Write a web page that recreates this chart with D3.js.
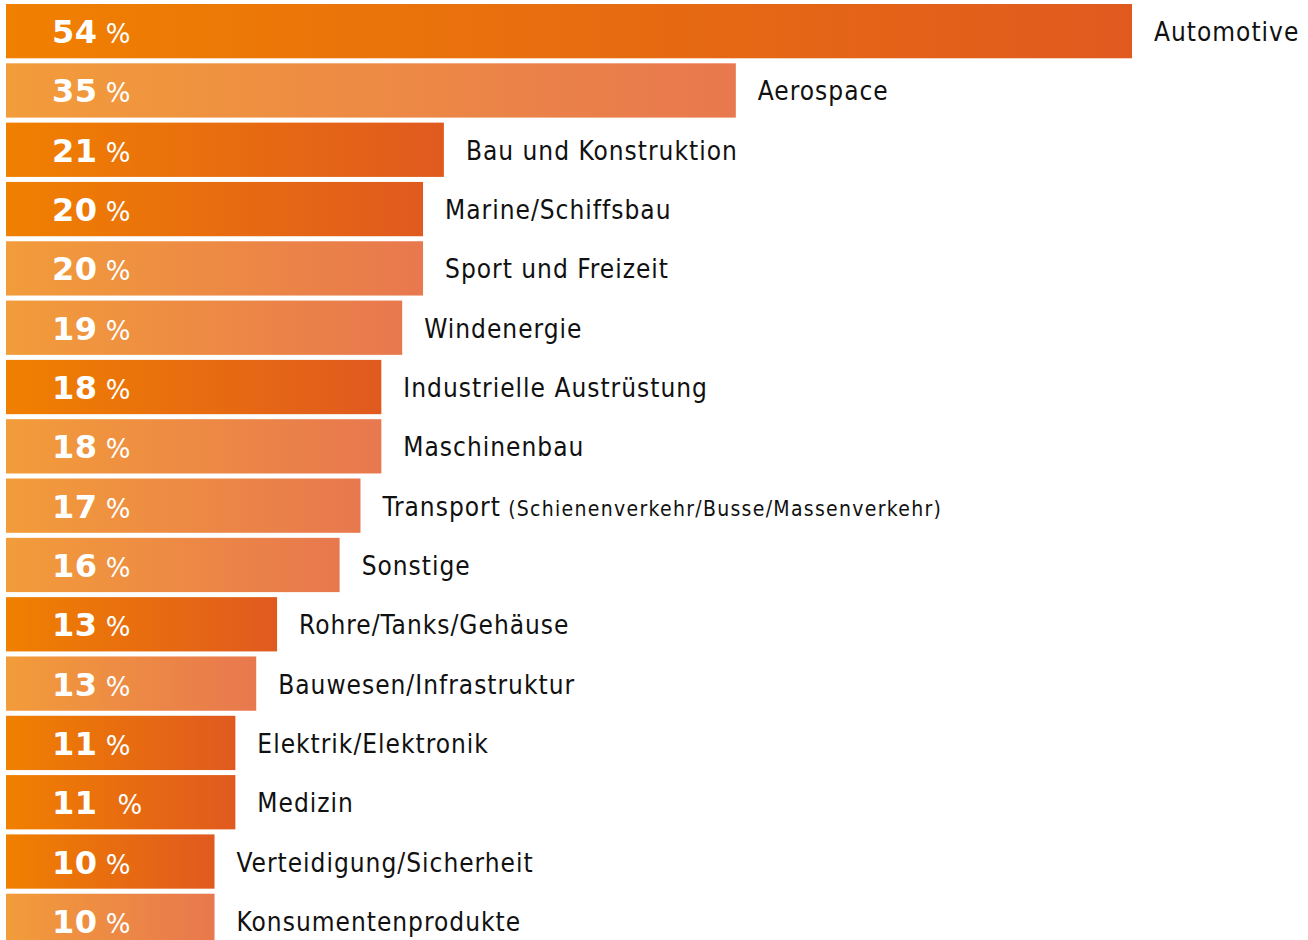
<!DOCTYPE html>
<meta charset="utf-8">
<script src="https://d3js.org/d3.v7.min.js"></script>
<style>
  body { margin: 0; background: #fff; }
</style>
<div id="chart"></div>
<script>
// categories, top to bottom
var categories = ["Automotive", "Aerospace", "Bau und Konstruktion", "Marine/Schiffsbau",
  "Sport und Freizeit", "Windenergie", "Industrielle Austrüstung", "Maschinenbau",
  "Transport", "Sonstige", "Rohre/Tanks/Gehäuse", "Bauwesen/Infrastruktur",
  "Elektrik/Elektronik", "Medizin", "Verteidigung/Sicherheit", "Konsumentenprodukte"];
// extra small text after a category name
var subLabels = ["", "", "", "", "", "", "", "", "(Schienenverkehr/Busse/Massenverkehr)",
  "", "", "", "", "", "", ""];
// bar lengths as drawn (percent)
var values = [54, 35, 21, 20, 20, 19, 18, 18, 17, 16, 13, 12, 11, 11, 10, 10];
// the number printed inside each bar
var shownValues = ["54", "35", "21", "20", "20", "19", "18", "18", "17", "16", "13", "13", "11", "11 ", "10", "10"];
// colour style of each bar: d = dark orange, l = light orange
var shades = ["d", "l", "d", "d", "l", "l", "d", "l", "l", "l", "d", "l", "d", "d", "d", "l"];

var width = 1308, height = 940;
var barLeft = 6;

var svg = d3.select("#chart").append("svg")
    .attr("width", width)
    .attr("height", height);

// gradients
var defs = svg.append("defs");
var grads = {
  d: ["#f08000", "#e05a1f"],
  l: ["#f29c3a", "#e8784e"]
};
Object.keys(grads).forEach(function(k) {
  var g = defs.append("linearGradient").attr("id", "grad_" + k)
      .attr("x1", "0%").attr("x2", "100%").attr("y1", "0%").attr("y2", "0%");
  g.append("stop").attr("offset", "0%").attr("stop-color", grads[k][0]);
  g.append("stop").attr("offset", "100%").attr("stop-color", grads[k][1]);
});

var x = d3.scaleLinear()
    .domain([0, 54])
    .range([barLeft, 1132]);

var y = d3.scaleBand()
    .domain(d3.range(categories.length))
    .range([4, 4 + 59 * categories.length])
    .paddingInner(5 / 59)
    .paddingOuter(0);

var rows = svg.selectAll("g.row")
    .data(categories)
    .enter()
    .append("g")
    .attr("class", "row")
    .attr("transform", function(d, i) { return "translate(0," + y(i) + ")"; });

rows.append("rect")
    .attr("x", x(0))
    .attr("y", 0)
    .attr("width", function(d, i) { return x(values[i]) - x(0); })
    .attr("height", y.bandwidth())
    .attr("fill", function(d, i) { return "url(#grad_" + shades[i] + ")"; });

// value inside the bar
var vt = rows.append("text")
    .attr("x", 52)
    .attr("y", y.bandwidth() / 2 + 12)
    .attr("fill", "#fff")
    .style("font-family", "'DejaVu Sans'")
    .style("white-space", "pre")
    .attr("xml:space", "preserve");
vt.append("tspan")
    .style("font-size", "32px")
    .style("font-weight", "bold")
    .style("letter-spacing", "0.5px")
    .text(function(d, i) { return shownValues[i]; });
vt.append("tspan")
    .style("font-size", "26px")
    .text(" %");

// category label right of the bar
var lt = rows.append("text")
    .attr("x", function(d, i) { return x(values[i]) + 22; })
    .attr("y", y.bandwidth() / 2 + 10)
    .attr("fill", "#111")
    .style("font-family", "'DejaVu Sans Condensed', 'DejaVu Sans'")
    .style("font-stretch", "condensed")
    .style("font-size", "26px")
    .style("letter-spacing", "1px");
lt.append("tspan").text(function(d) { return d; });
lt.append("tspan")
    .style("font-size", "21px")
    .style("letter-spacing", "1.3px")
    .text(function(d, i) { return subLabels[i] ? " " + subLabels[i] : ""; });
</script>
